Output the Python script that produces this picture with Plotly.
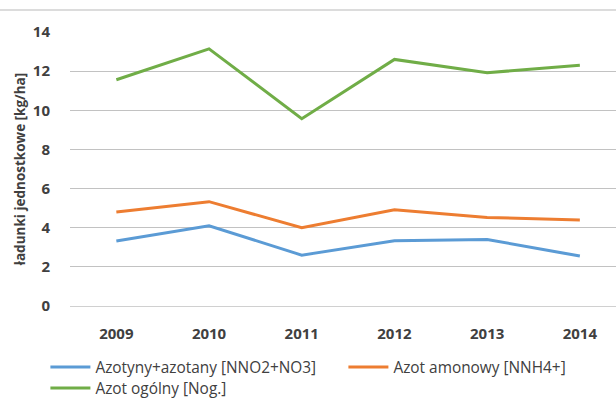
import plotly.graph_objects as go

years = ["2009", "2010", "2011", "2012", "2013", "2014"]
azotyny_azotany = [3.32, 4.1, 2.6, 3.33, 3.4, 2.55]
azot_amonowy = [4.8, 5.33, 4.0, 4.92, 4.52, 4.4]
azot_ogolny = [11.56, 13.14, 9.57, 12.6, 11.92, 12.3]
y_ticks = [0, 2, 4, 6, 8, 10, 12, 14]

series_names = ["Azotyny+azotany [NNO2+NO3]", "Azot amonowy [NNH4+]", "Azot ogólny [Nog.]"]
series_colors = ["#5b9bd5", "#ed7d31", "#70ad47"]
series_values = [azotyny_azotany, azot_amonowy, azot_ogolny]
series_legends = ["legend", "legend2", "legend3"]

FONT = "Open Sans"
TXT = "#404040"

fig = go.Figure()
for name, vals, col, lg in zip(series_names, series_values, series_colors, series_legends):
    fig.add_trace(go.Scatter(
        x=years, y=vals, name=name, mode="lines",
        line=dict(color=col, width=3), legend=lg,
    ))

W, H = 616, 412
ml, mr, mt, mb = 70, 0, 32, 106
plot_w = W - ml - mr
plot_h = H - mt - mb


def legend_box(x_px, row_center_px):
    # place a single-item legend so its sample starts at x_px and text is centred on row_center_px
    return dict(
        orientation="v",
        x=(x_px - 6.6 - ml) / plot_w, xanchor="left",
        y=-(row_center_px - 17.6 - (mt + plot_h)) / plot_h, yanchor="top",
        font=dict(family=FONT, size=15.4, color=TXT),
        itemwidth=40, bgcolor="rgba(0,0,0,0)", tracegroupgap=0,
    )


fig.update_layout(
    width=W, height=H,
    margin=dict(l=ml, r=mr, t=mt, b=mb, pad=0, autoexpand=False),
    paper_bgcolor="white", plot_bgcolor="white",
    font=dict(family=FONT, color=TXT),
    showlegend=True,
    legend=legend_box(52, 368),
    legend2=legend_box(350, 368),
    legend3=legend_box(52, 389),
    xaxis=dict(
        type="category", range=[-0.5, 5.39],
        showgrid=False, zeroline=False, showline=False,
        ticks="", ticklabelstandoff=17,
        tickfont=dict(family=FONT, size=15, color=TXT, weight="bold"),
    ),
    yaxis=dict(
        range=[0, 14], tickmode="array", tickvals=y_ticks,
        showgrid=True, gridcolor="#c2c2c2", gridwidth=1.2,
        zeroline=True, zerolinecolor="#d0d0d0", zerolinewidth=1.2, showline=False,
        ticks="", ticklabelstandoff=19,
        tickfont=dict(family=FONT, size=15, color=TXT, weight="bold"),
        title=dict(text="ładunki jednostkowe [kg/ha]", standoff=4,
                   font=dict(family=FONT, size=13.5, color=TXT, weight="bold")),
    ),
)

# chart-area frame edge visible at the top of the crop
fig.add_shape(type="line", xref="paper", yref="paper",
              x0=-ml / plot_w, x1=1, y0=1 + 22 / plot_h, y1=1 + 22 / plot_h,
              line=dict(color="#dcdcdc", width=2))

fig.write_html("out.html",
               config={"displayModeBar": False},
               post_script="document.body.style.margin='0';document.body.style.padding='0';")
